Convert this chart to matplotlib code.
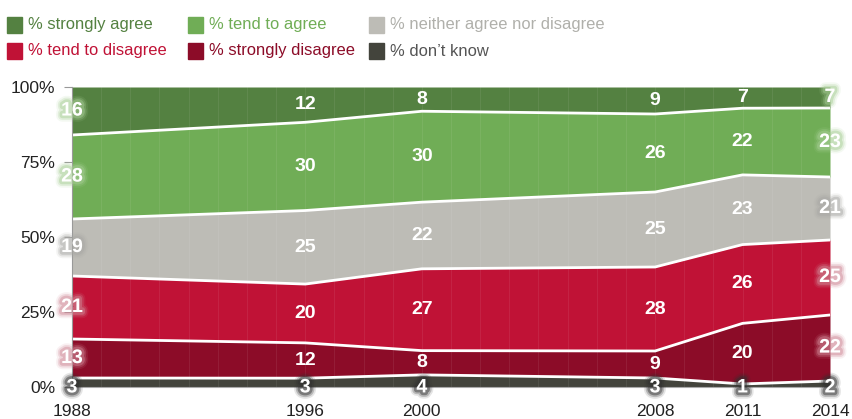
import numpy as np
import matplotlib
matplotlib.use('Agg')
import matplotlib.pyplot as plt
import matplotlib.patheffects as pe
from matplotlib.patches import Rectangle

plt.rcParams['font.family'] = ['Liberation Sans', 'DejaVu Sans']

years = [1988, 1996, 2000, 2008, 2011, 2014]
dont_know = [3, 3, 4, 3, 1, 2]
strongly_disagree = [13, 12, 8, 9, 20, 22]
tend_disagree = [21, 20, 27, 28, 26, 25]
neither = [19, 25, 22, 25, 23, 21]
tend_agree = [28, 30, 30, 26, 22, 23]
strongly_agree = [16, 12, 8, 9, 7, 7]

series = [dont_know, strongly_disagree, tend_disagree, neither, tend_agree, strongly_agree]
names = ['% don\u2019t know', '% strongly disagree', '% tend to disagree',
         '% neither agree nor disagree', '% tend to agree', '% strongly agree']
colors = ['#43443c', '#8c0c28', '#c01236', '#bdbcb6', '#70ad56', '#548141']
glows = ['#303030', '#d08a98', '#d08a98', '#a8a8a4', '#a9cf97', '#a9cf97']

vals = np.array(series, dtype=float)
pct = vals / vals.sum(axis=0) * 100
cum = np.vstack([np.zeros(len(years)), np.cumsum(pct, axis=0)])

fig = plt.figure(figsize=(8.52, 4.19), dpi=100)
ax = fig.add_axes([72 / 852, 32 / 419, 758 / 852, 300 / 419])

for i in range(len(series)):
    ax.fill_between(years, cum[i], cum[i + 1], color=colors[i], lw=0, zorder=1)
for i in range(1, len(series)):
    ax.plot(years, cum[i], color='white', lw=2, zorder=3, solid_joinstyle='round')

# faint yearly gridlines
for yr in range(1988, 2015):
    ax.axvline(yr, color='white', alpha=0.07, lw=0.8, zorder=2)


def glow(c):
    return [pe.Stroke(linewidth=9, foreground=c, alpha=0.12),
            pe.Stroke(linewidth=6.5, foreground=c, alpha=0.25),
            pe.Stroke(linewidth=4, foreground=c, alpha=0.45),
            pe.Normal()]


for i in range(len(series)):
    for j, yr in enumerate(years):
        if i == 0:
            y = -0.3
        else:
            y = (cum[i][j] + cum[i + 1][j]) / 2
        edge = j == 0 or j == len(years) - 1
        t = ax.text(yr, y, str(int(vals[i][j])), color='white', fontsize=14,
                    fontweight='bold', ha='center', va='center', zorder=5)
        if edge or i == 0:
            t.set_path_effects(glow(glows[i]))

ax.set_xlim(1988, 2014)
ax.set_ylim(0, 100)
ax.set_xticks(years)
ax.set_yticks([0, 25, 50, 75, 100])
ax.set_yticklabels(['0%', '25%', '50%', '75%', '100%'])
ax.tick_params(axis='y', length=6, color='#999999', pad=6, labelsize=12.5, labelcolor='#222222')
ax.tick_params(axis='x', length=0, pad=12, labelsize=12.5, labelcolor='#222222')
for s in ['top', 'right']:
    ax.spines[s].set_visible(False)
ax.spines['left'].set_color('#999999')
ax.spines['bottom'].set_color('#aaaaaa')
ax.spines['left'].set_zorder(4)
ax.spines['bottom'].set_zorder(4)

# legend drawn by hand, two rows of three
legend_rows = [[5, 4, 3], [2, 1, 0]]
col_x = [7, 188, 369]
row_y = [25, 51]
for r, row in enumerate(legend_rows):
    for c, idx in enumerate(row):
        fig.patches.append(Rectangle((col_x[c] / 852, 1 - (row_y[r] + 8) / 419), 15 / 852, 16 / 419,
                                     transform=fig.transFigure, color=colors[idx]))
        tc = '#555555' if idx == 0 else ('#b0b0ab' if idx == 3 else colors[idx])
        fig.text((col_x[c] + 21) / 852, 1 - row_y[r] / 419, names[idx], color=tc,
                 fontsize=11.9, ha='left', va='center')

fig.savefig('out.png', dpi=100)
